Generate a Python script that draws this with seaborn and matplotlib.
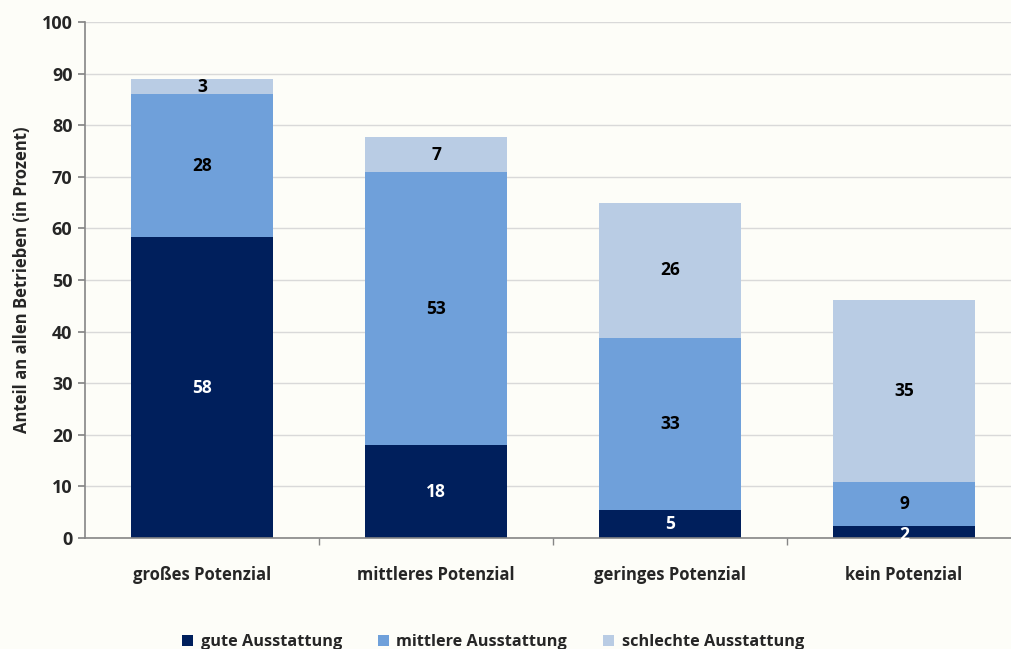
import matplotlib
matplotlib.use("Agg")
import matplotlib.pyplot as plt
import seaborn as sns
import pandas as pd
import numpy as np
from matplotlib.patches import Patch

categories = ["großes Potenzial", "mittleres Potenzial", "geringes Potenzial", "kein Potenzial"]
series_names = ["gute Ausstattung", "mittlere Ausstattung", "schlechte Ausstattung"]
gute = [58.3, 18.0, 5.4, 2.3]
mittlere = [27.7, 52.9, 33.4, 8.6]
schlechte = [3.0, 6.8, 26.1, 35.2]
labels_gute = ["58", "18", "5", "2"]
labels_mittlere = ["28", "53", "33", "9"]
labels_schlechte = ["3", "7", "26", "35"]
colors = ["#001F5C", "#6FA0DA", "#B9CCE4"]

sns.set_theme(style="white")
plt.rcParams['font.family'] = ['Open Sans', 'DejaVu Sans']

bg = "#FDFDF8"
fig = plt.figure(figsize=(10.11, 6.49), dpi=100, facecolor=bg)
ax = fig.add_axes([85/1011, 1-538/649, 936/1011, 516/649])
ax.set_facecolor(bg)

series = [gute, mittlere, schlechte]
lbls = [labels_gute, labels_mittlere, labels_schlechte]
txtcol = ["white", "black", "black"]

cum = np.cumsum(np.array(series), axis=0)
for i in reversed(range(3)):
    df = pd.DataFrame({"cat": categories, "val": cum[i]})
    sns.barplot(data=df, x="cat", y="val", color=colors[i], width=0.61,
                saturation=1, ax=ax, zorder=2, linewidth=0)

for i in range(3):
    base = cum[i] - np.array(series[i])
    for j in range(len(categories)):
        ypos = base[j] + series[i][j] / 2
        if i == 0 and j == 3:
            ypos = base[j] + series[i][j] / 2 - 0.6
        ax.text(j, ypos, lbls[i][j], ha="center", va="center",
                fontsize=12.5, fontweight="bold", color=txtcol[i], zorder=5)

ax.set_ylim(0, 100)
ax.set_xlim(-0.5, 3.5)
ax.set_yticks(range(0, 101, 10))
ax.yaxis.grid(True, color="#D9D9D9", linewidth=1, zorder=0)
ax.set_axisbelow(True)
for s in ["top", "right"]:
    ax.spines[s].set_visible(False)
for s in ["left", "bottom"]:
    ax.spines[s].set_color("#868686")
    ax.spines[s].set_linewidth(1.2)
ax.set_xlabel("")
ax.set_ylabel("Anteil an allen Betrieben (in Prozent)", fontsize=12, fontweight="bold", labelpad=8)
ax.tick_params(axis="y", which="both", left=True, length=5, color="#868686", labelsize=13, pad=4)
ax.set_xticks(range(4))
ax.set_xticklabels(categories, fontsize=12, fontweight="bold")
ax.tick_params(axis="x", which="major", bottom=False, pad=14)
ax.set_xticks([0.5, 1.5, 2.5], minor=True)
ax.tick_params(axis="x", which="minor", bottom=True, length=5, color="#868686")
for t in ax.get_yticklabels():
    t.set_fontweight("bold")

handles = [Patch(facecolor=c, edgecolor="none") for c in colors]
fig.legend(handles, series_names, loc="center", bbox_to_anchor=(493/1011, 1-642/649),
           ncol=3, frameon=False, prop={"size": 11.7, "weight": "bold"},
           handlelength=0.7, handleheight=0.7, columnspacing=2.2, handletextpad=0.45)

fig.savefig("out.png", dpi=100, facecolor=bg)
